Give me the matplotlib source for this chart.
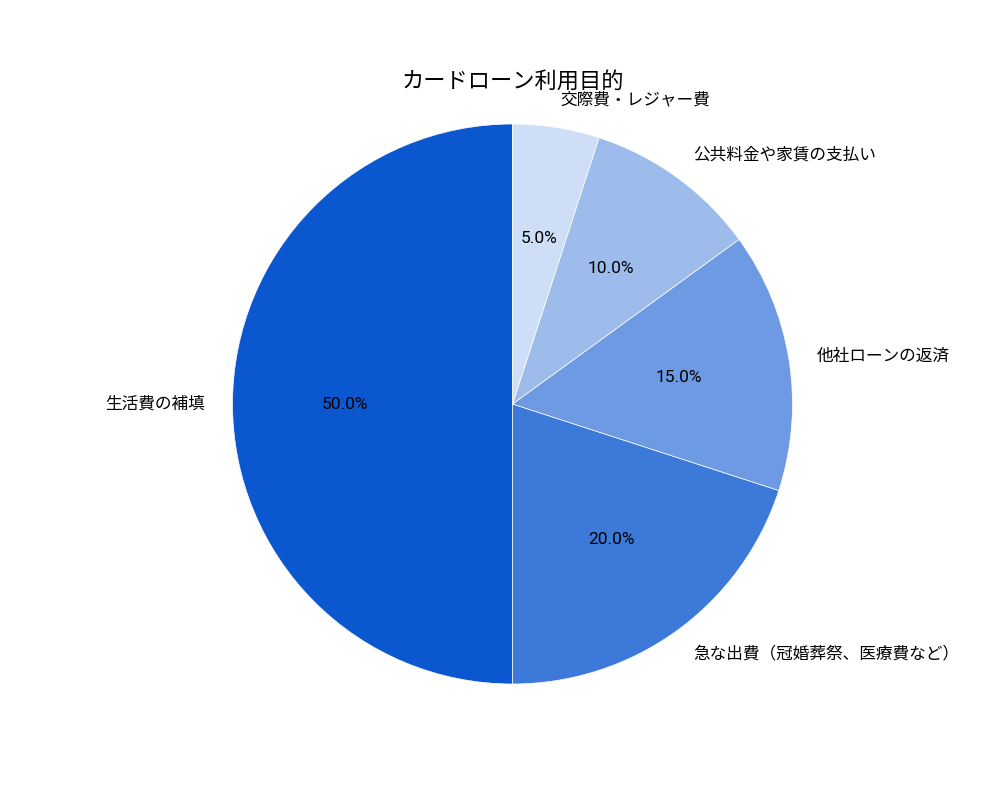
import matplotlib
matplotlib.use("Agg")
import matplotlib.pyplot as plt

plt.rcParams['font.family'] = ['Roboto', 'Noto Sans CJK JP', 'DejaVu Sans']

title = "カードローン利用目的"
labels = ["生活費の補填", "急な出費（冠婚葬祭、医療費など）", "他社ローンの返済", "公共料金や家賃の支払い", "交際費・レジャー費"]
values = [50, 20, 15, 10, 5]
colors = ["#0b57d0", "#3c79d9", "#6d9ae3", "#9dbcec", "#cedef6"]

fig = plt.figure(figsize=(10, 8), dpi=100)
ax = fig.add_subplot(111)
wedges, texts, autotexts = ax.pie(
    values, labels=labels, colors=colors, autopct="%1.1f%%", startangle=90,
    counterclock=True, wedgeprops=dict(edgecolor="white", linewidth=0.5),
    textprops=dict(fontsize=12))
for t in autotexts:
    t.set_fontsize(12.5)
ax.set_title(title, fontsize=16)
ax.axis('equal')
fig.savefig("out.png", dpi=100)
